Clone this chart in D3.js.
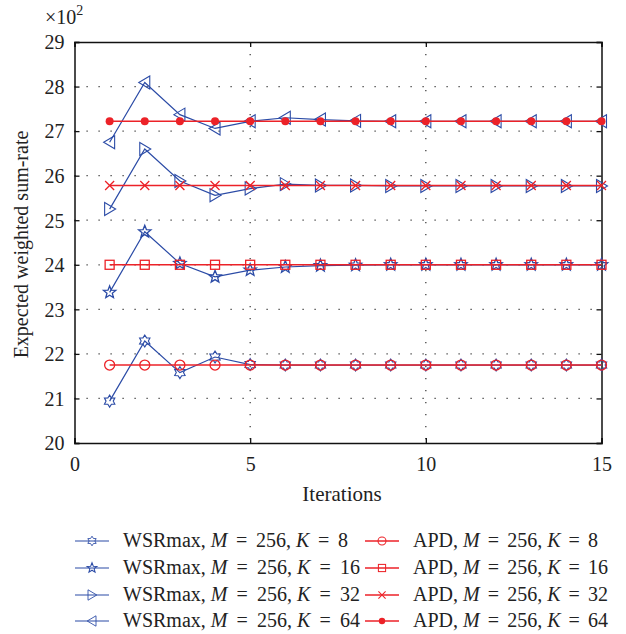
<!DOCTYPE html>
<html><head><meta charset="utf-8">
<script src="https://cdn.jsdelivr.net/npm/d3@7"></script>
<style>body{margin:0;background:#fff}svg{display:block}text{font-family:"Liberation Serif","Times New Roman",serif;fill:#222}</style>
</head><body><svg id="c" width="626" height="634"></svg>
<script>
const iterations = [1,2,3,4,5,6,7,8,9,10,11,12,13,14,15];
const wsrK8  = [20.94,22.29,21.58,21.93,21.76,21.75,21.75,21.75,21.75,21.75,21.75,21.75,21.75,21.75,21.75];
const wsrK16 = [23.38,24.74,24.03,23.73,23.88,23.95,23.98,23.99,24.0,24.0,24.0,24.0,24.0,24.0,24.0];
const wsrK32 = [25.25,26.60,25.88,25.56,25.71,25.81,25.78,25.78,25.77,25.77,25.77,25.77,25.77,25.77,25.77];
const wsrK64 = [26.75,28.09,27.37,27.06,27.22,27.30,27.26,27.23,27.22,27.22,27.22,27.22,27.22,27.22,27.22];
const apdK8  = [21.75,21.75,21.75,21.75,21.75,21.75,21.75,21.75,21.75,21.75,21.75,21.75,21.75,21.75,21.75];
const apdK16 = [24.0,24.0,24.0,24.0,24.0,24.0,24.0,24.0,24.0,24.0,24.0,24.0,24.0,24.0,24.0];
const apdK32 = [25.78,25.78,25.78,25.78,25.78,25.78,25.78,25.78,25.78,25.78,25.78,25.78,25.78,25.78,25.78];
const apdK64 = [27.22,27.22,27.22,27.22,27.22,27.22,27.22,27.22,27.22,27.22,27.22,27.22,27.22,27.22,27.22];
const xTicks = [0,5,10,15];
const yTicks = [20,21,22,23,24,25,26,27,28,29];
const seriesNames = ["WSRmax, ","WSRmax, ","WSRmax, ","WSRmax, ","APD, ","APD, ","APD, ","APD, "];
const kValues = [8,16,32,64,8,16,32,64];

const BLUE="#2b4ba6", RED="#ec2228";
const series = [
  {v:wsrK8,c:BLUE,m:"hex"},{v:wsrK16,c:BLUE,m:"pent"},{v:wsrK32,c:BLUE,m:"tr"},{v:wsrK64,c:BLUE,m:"tl"},
  {v:apdK8,c:RED,m:"circ"},{v:apdK16,c:RED,m:"sq"},{v:apdK32,c:RED,m:"x"},{v:apdK64,c:RED,m:"dot"}
];
const svg=d3.select("#c");
const L=74.5,R=601.5,T=42,B=443;
const x=d3.scaleLinear().domain([0,15]).range([L,R]);
const y=d3.scaleLinear().domain([20,29]).range([B,T]);

// grid
const g=svg.append("g");
g.selectAll(".gx").data(xTicks.filter(d=>d>0&&d<15)).enter().append("line")
 .attr("x1",d=>x(d)).attr("x2",d=>x(d)).attr("y1",T).attr("y2",B)
 .attr("stroke","#333").attr("stroke-width",1.2).attr("stroke-dasharray","1.2,10.8");
g.selectAll(".gy").data(yTicks.filter(d=>d>20&&d<29)).enter().append("line")
 .attr("x1",L).attr("x2",R).attr("y1",d=>y(d)).attr("y2",d=>y(d))
 .attr("stroke","#333").attr("stroke-width",1.2).attr("stroke-dasharray","1.2,10.8");

// axes
const ax=svg.append("g").attr("transform",`translate(0,${B})`).call(d3.axisBottom(x).tickValues(xTicks).tickSize(-5).tickPadding(14));
const ay=svg.append("g").attr("transform",`translate(${L},0)`).call(d3.axisLeft(y).tickValues(yTicks).tickSize(-5).tickPadding(10));
const at=svg.append("g").attr("transform",`translate(0,${T})`).call(d3.axisTop(x).tickValues(xTicks).tickSize(-5).tickFormat(""));
const ar=svg.append("g").attr("transform",`translate(${R},0)`).call(d3.axisRight(y).tickValues(yTicks).tickSize(-5).tickFormat(""));
[ax,ay,at,ar].forEach(a=>{a.select(".domain").attr("stroke","#111").attr("stroke-width",1.5);
 a.selectAll(".tick line").attr("stroke","#111").attr("stroke-width",1.3);
 a.selectAll("text").style("font-family","'Liberation Serif',serif").style("font-size","20px").attr("fill","#222");});
ay.selectAll("text").attr("dy","0.34em");

// markers
function starPath(n,ro,ri){let p=[];for(let i=0;i<2*n;i++){const r=i%2?ri:ro;const a=-Math.PI/2+i*Math.PI/n;p.push([r*Math.cos(a),r*Math.sin(a)]);}return "M"+p.map(q=>q.join(",")).join("L")+"Z";}
function marker(sel,m,c){
  if(m==="hex") sel.append("path").attr("d",starPath(6,6,3.6)).attr("fill","none").attr("stroke",c).attr("stroke-width",1.1);
  else if(m==="pent") sel.append("path").attr("d",starPath(5,6.5,2.8)).attr("fill","none").attr("stroke",c).attr("stroke-width",1.3);
  else if(m==="tr") sel.append("path").attr("d","M-5,-6.5L6,0L-5,6.5Z").attr("fill","none").attr("stroke",c).attr("stroke-width",1.1);
  else if(m==="tl") sel.append("path").attr("d","M5,-6.5L-6,0L5,6.5Z").attr("fill","none").attr("stroke",c).attr("stroke-width",1.1);
  else if(m==="circ") sel.append("circle").attr("r",5).attr("fill","none").attr("stroke",c).attr("stroke-width",1.3);
  else if(m==="sq") sel.append("rect").attr("x",-4.5).attr("y",-4.5).attr("width",9).attr("height",9).attr("fill","none").attr("stroke",c).attr("stroke-width",1.3);
  else if(m==="x") sel.append("path").attr("d","M-4.5,-4.5L4.5,4.5M-4.5,4.5L4.5,-4.5").attr("stroke",c).attr("stroke-width",1.3);
  else if(m==="dot") sel.append("circle").attr("r",4).attr("fill",c);
}
const line=d3.line().x((d,i)=>x(iterations[i])).y(d=>y(d));
series.forEach(s=>{
  svg.append("path").datum(s.v).attr("d",line).attr("fill","none").attr("stroke",s.c).attr("stroke-width",s.c===RED?1.5:1.2);
  s.v.forEach((v,i)=>{const gg=svg.append("g").attr("transform",`translate(${x(iterations[i])},${y(v)})`);marker(gg,s.m,s.c);});
});

// labels
const ex=svg.append("text").attr("x",45).attr("y",24).style("font-size","20px");
ex.append("tspan").text("×10");
ex.append("tspan").attr("dy",-9).style("font-size","14px").text("2");
svg.append("text").attr("x",342).attr("y",501).attr("text-anchor","middle").style("font-size","21px").text("Iterations");
svg.append("text").attr("transform",`translate(28,${(T+B)/2+2}) rotate(-90)`).attr("text-anchor","middle").style("font-size","20px").text("Expected weighted sum-rate");

// legend
const rowsY=[541,568,595,621];
series.forEach((s,i)=>{
  const col=i<4?0:1, row=i%4;
  const lx=col?365:75, tx=col?413:123, yy=rowsY[row];
  const endX = col ? (row===0?598:608) : (row===0?348:360);
  svg.append("line").attr("x1",lx).attr("x2",lx+34).attr("y1",yy).attr("y2",yy).attr("stroke",s.c).attr("stroke-width",s.c===RED?1.5:1.2);
  const gg=svg.append("g").attr("transform",`translate(${lx+17},${yy}) scale(0.8)`);marker(gg,s.m,s.c);
  const t=svg.append("text").attr("x",tx).attr("y",yy+6).style("font-size","20px").style("white-space","pre");
  t.append("tspan").text(seriesNames[i]);
  t.append("tspan").style("font-style","italic").text("M");
  const e1=t.append("tspan").text(" =");
  const e2=t.append("tspan").text(" 256, ");
  t.append("tspan").style("font-style","italic").text("K");
  const e3=t.append("tspan").text(" =");
  const e4=t.append("tspan").text(" "+kValues[i]);
  const w=t.node().getComputedTextLength();
  const extra=(endX-tx-w)/4;
  if(extra>0) [e1,e2,e3,e4].forEach(e=>e.attr("dx",extra));
});
</script></body></html>
